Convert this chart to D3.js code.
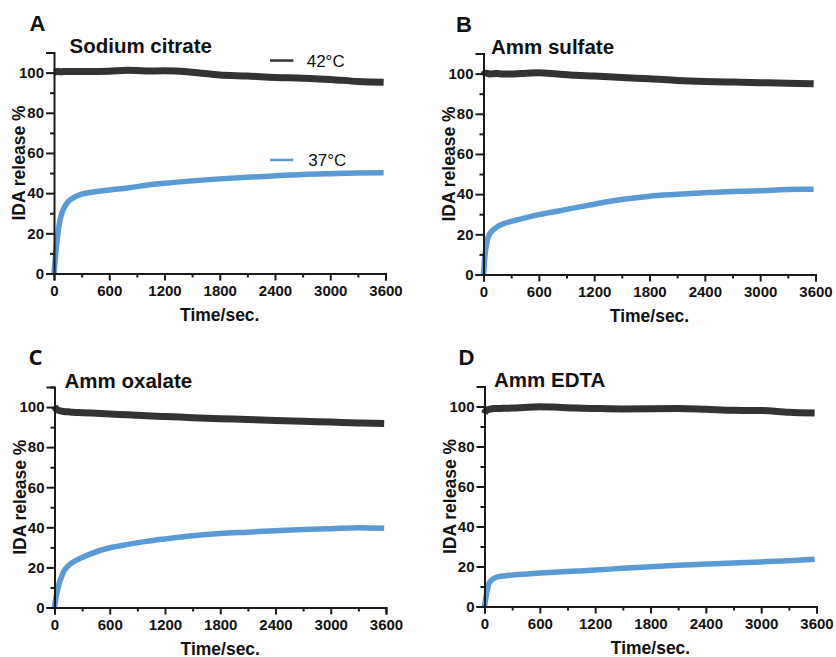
<!DOCTYPE html>
<html><head><meta charset="utf-8">
<script src="https://cdn.jsdelivr.net/npm/d3@7"></script>
<style>
html,body{margin:0;padding:0;background:#fff;}
svg{display:block;font-family:"Liberation Sans",Arial,sans-serif;}
</style></head>
<body><svg id="chart" width="836" height="657"></svg>
<script>
// ---- data ----
const panelLetters = ["A", "B", "C", "D"];
const panelTitles = ["Sodium citrate", "Amm sulfate", "Amm oxalate", "Amm EDTA"];
const seriesNames = ["42°C", "37°C"];
const times = [0, 10, 25, 50, 75, 100, 150, 200, 300, 400, 600, 800, 1000, 1200, 1500, 1800, 2100, 2400, 2700, 3000, 3300, 3580];

const citrate42 = [100.2, 100.3, 100.5, 100.5, 100.4, 100.5, 100.6, 100.5, 100.6, 100.5, 100.7, 101.2, 100.8, 100.9, 100.2, 98.8, 98.3, 97.6, 97.2, 96.6, 95.6, 95.2];
const citrate37 = [0, 5.5, 13, 22.5, 28.5, 31.7, 35.6, 37.4, 39.5, 40.4, 41.6, 42.6, 43.9, 44.9, 46.1, 47.1, 47.9, 48.6, 49.3, 49.7, 50, 50.1];
const sulfate42 = [99, 100, 100.2, 100, 99.8, 99.9, 100, 99.8, 99.8, 100, 100.4, 99.8, 99.2, 98.8, 98, 97.4, 96.6, 96.1, 95.8, 95.5, 95.2, 94.9];
const sulfate37 = [0, 6.5, 13, 18.5, 20.7, 22, 23.8, 25, 26.4, 27.6, 29.8, 31.5, 33.3, 35, 37.3, 39, 39.9, 40.7, 41.3, 41.7, 42.3, 42.4];
const oxalate42 = [100.5, 99.5, 98.8, 98.3, 98, 97.8, 97.6, 97.4, 97.2, 97, 96.5, 96.1, 95.6, 95.3, 94.7, 94.2, 93.8, 93.3, 92.9, 92.5, 92.1, 91.8];
const oxalate37 = [0, 3.5, 7, 11.8, 15.2, 18, 20.8, 22.6, 25, 26.9, 29.8, 31.5, 33, 34.2, 35.8, 36.9, 37.6, 38.3, 38.9, 39.3, 39.8, 39.5];
const edta42 = [96.5, 97.5, 98.2, 98.6, 98.8, 99, 99, 99.1, 99.2, 99.4, 99.9, 99.6, 99.2, 99, 98.8, 98.9, 99, 98.6, 98.1, 98, 97.1, 96.7];
const edta37 = [0, 3, 7, 11.7, 13.1, 14, 14.9, 15.2, 15.8, 16.1, 16.7, 17.2, 17.7, 18.2, 19.1, 19.9, 20.6, 21.2, 21.8, 22.3, 22.9, 23.6];

const xMajorTicks = [0, 600, 1200, 1800, 2400, 3000, 3600];
const xMinorTicks = [300, 900, 1500, 2100, 2700, 3300];
const yMajorTicks = [0, 20, 40, 60, 80, 100];
const yMinorTicks = [10, 30, 50, 70, 90, 110];

const panelSeries = [
  [citrate42, citrate37],
  [sulfate42, sulfate37],
  [oxalate42, oxalate37],
  [edta42, edta37]
];

// ---- layout / style ----
const colors = ["#333333", "#5b9bd5"];
const strokeW = [7, 5.5];
const axisColor = "#1a1a1a";
const layout = [
  {x0: 54, x1: 385.5, yTop: 52.5, yBot: 273.5, titleDx: 15.5, letterDx: -24.5, letterFont: "Liberation Sans"},
  {x0: 483.5, x1: 815.5, yTop: 53.5, yBot: 274.5, titleDx: 7.5, letterDx: -27.5, letterFont: "Liberation Sans"},
  {x0: 54.5, x1: 386, yTop: 387, yBot: 607.5, titleDx: 10, letterDx: -26, letterFont: "Open Sans"},
  {x0: 484.5, x1: 816.5, yTop: 386.5, yBot: 606.5, titleDx: 9.5, letterDx: -26, letterFont: "Liberation Sans"}
];

const svg = d3.select("#chart");

panelSeries.forEach((series, i) => {
  const L = layout[i];
  const x = d3.scaleLinear().domain([0, 3600]).range([L.x0, L.x1]);
  const y = d3.scaleLinear().domain([0, 110]).range([L.yBot, L.yTop]);
  const g = svg.append("g");

  // lines
  series.forEach((vals, s) => {
    const pts = times.map((t, k) => [t, vals[k]]);
    g.append("path")
      .datum(pts)
      .attr("fill", "none")
      .attr("stroke", colors[s])
      .attr("stroke-width", strokeW[s])
      .attr("stroke-linejoin", "round")
      .attr("d", d3.line().x(d => x(d[0])).y(d => y(d[1])).curve(d3.curveMonotoneX));
  });

  // x axis
  g.append("g").attr("transform", `translate(0,${L.yBot})`)
    .call(d3.axisBottom(x).tickValues(xMajorTicks).tickSize(7).tickPadding(5).tickFormat(d3.format("d")));
  g.append("g").attr("transform", `translate(0,${L.yBot})`)
    .call(d3.axisBottom(x).tickValues(xMinorTicks).tickSize(4).tickFormat(""))
    .select(".domain").remove();

  // y axis
  g.append("g").attr("transform", `translate(${L.x0},0)`)
    .call(d3.axisLeft(y).tickValues(yMajorTicks).tickSize(8).tickPadding(2).tickFormat(d3.format("d")));
  g.append("g").attr("transform", `translate(${L.x0},0)`)
    .call(d3.axisLeft(y).tickValues(yMinorTicks).tickSize(4).tickFormat(""))
    .select(".domain").remove();

  g.selectAll(".domain").attr("stroke", axisColor).attr("stroke-width", 2);
  g.selectAll(".tick line").attr("stroke", axisColor).attr("stroke-width", 2);
  g.selectAll(".tick text")
    .attr("fill", "#111")
    .style("font-family", "'Liberation Sans',Arial,sans-serif")
    .style("font-size", "15px")
    .style("font-weight", "bold");

  // axis titles
  g.append("text")
    .attr("x", (L.x0 + L.x1) / 2)
    .attr("y", L.yBot + 47)
    .attr("text-anchor", "middle")
    .style("font-size", "17.5px").style("font-weight", "bold").attr("fill", "#111")
    .text("Time/sec.");
  g.append("text")
    .attr("transform", `translate(${L.x0 - 29},${(L.yTop + L.yBot) / 2}) rotate(-90)`)
    .attr("text-anchor", "middle")
    .style("font-size", "17.5px").style("font-weight", "bold").attr("fill", "#111")
    .text("IDA release %");

  // panel title
  g.append("text")
    .attr("x", L.x0 + L.titleDx)
    .attr("y", L.yTop + 0.5)
    .style("font-size", "20.5px").style("font-weight", "bold").attr("fill", "#111")
    .text(panelTitles[i]);

  // panel letter
  g.append("text")
    .attr("x", L.x0 + L.letterDx)
    .attr("y", L.yTop - 22)
    .style("font-family", `'${L.letterFont}',Arial,sans-serif`)
    .style("font-size", "22px").style("font-weight", "bold").attr("fill", "#111")
    .text(panelLetters[i]);

  // legend (panel A only)
  if (i === 0) {
    const legendY = [106, 56.5];
    seriesNames.forEach((name, s) => {
      g.append("line")
        .attr("x1", x(2346)).attr("x2", x(2599))
        .attr("y1", y(legendY[s])).attr("y2", y(legendY[s]))
        .attr("stroke", colors[s]).attr("stroke-width", 2.5);
      g.append("text")
        .attr("x", x(2744 + s * 18))
        .attr("y", y(legendY[s]))
        .attr("dy", "0.36em")
        .style("font-size", "17px").attr("fill", "#111")
        .text(name);
    });
  }
});
</script>
</body></html>
